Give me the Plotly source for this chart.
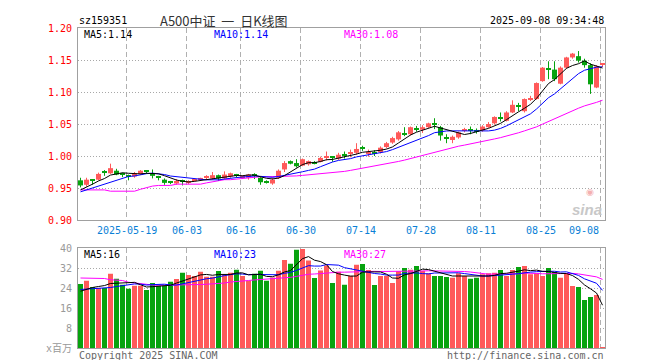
import plotly.graph_objects as go
import pandas as pd

# ---------------- data ----------------
dates = pd.bdate_range("2025-05-07", "2025-09-08")
dates = [d for d in dates if d.strftime("%m-%d") not in ("06-02",)]
dates = [d.strftime("%Y-%m-%d") for d in dates]

opens = [0.962, 0.955, 0.962, 0.963, 0.975, 0.973, 0.977, 0.972, 0.969, 0.968,
         0.972, 0.977, 0.973, 0.967, 0.963, 0.959, 0.957, 0.961, 0.959, 0.962,
         0.964, 0.966, 0.965, 0.970, 0.965, 0.968, 0.970, 0.966, 0.966, 0.970,
         0.966, 0.960, 0.957, 0.966, 0.979, 0.992, 0.989, 0.985, 0.987, 0.990,
         0.991, 0.997, 0.998, 0.996, 1.001, 1.004, 1.005, 1.012, 1.004, 1.005,
         1.006, 1.014, 1.021, 1.026, 1.035, 1.034, 1.043, 1.041, 1.045, 1.050,
         1.045, 1.029, 1.025, 1.029, 1.040, 1.041, 1.040, 1.040, 1.045, 1.051,
         1.060, 1.055, 1.068, 1.078, 1.070, 1.088, 1.089, 1.117, 1.136, 1.135,
         1.113, 1.138, 1.154, 1.156, 1.149, 1.142, 1.107, 1.1435]
highs = [0.966, 0.966, 0.964, 0.974, 0.978, 0.988, 0.980, 0.974, 0.971, 0.975,
         0.978, 0.978, 0.979, 0.969, 0.965, 0.961, 0.964, 0.963, 0.962, 0.964,
         0.966, 0.970, 0.975, 0.971, 0.976, 0.974, 0.972, 0.970, 0.972, 0.973,
         0.967, 0.962, 0.966, 0.979, 0.992, 0.993, 0.995, 0.996, 0.993, 0.992,
         0.999, 1.007, 1.000, 1.005, 1.007, 1.010, 1.020, 1.016, 1.010, 1.009,
         1.015, 1.022, 1.030, 1.039, 1.045, 1.046, 1.047, 1.048, 1.052, 1.059,
         1.047, 1.034, 1.032, 1.038, 1.044, 1.046, 1.043, 1.048, 1.053, 1.062,
         1.068, 1.070, 1.087, 1.083, 1.090, 1.094, 1.115, 1.139, 1.148, 1.148,
         1.140, 1.155, 1.161, 1.164, 1.152, 1.145, 1.142, 1.144]
lows = [0.951, 0.952, 0.955, 0.962, 0.969, 0.972, 0.970, 0.967, 0.962, 0.966,
        0.971, 0.972, 0.965, 0.962, 0.955, 0.956, 0.955, 0.954, 0.956, 0.960,
        0.962, 0.964, 0.963, 0.961, 0.963, 0.966, 0.966, 0.964, 0.963, 0.964,
        0.955, 0.957, 0.955, 0.964, 0.975, 0.987, 0.982, 0.984, 0.985, 0.987,
        0.990, 0.993, 0.991, 0.994, 0.996, 0.998, 1.002, 1.008, 0.999, 1.000,
        1.004, 1.012, 1.019, 1.024, 1.031, 1.032, 1.038, 1.036, 1.044, 1.042,
        1.024, 1.020, 1.020, 1.027, 1.037, 1.034, 1.035, 1.038, 1.044, 1.049,
        1.054, 1.054, 1.067, 1.070, 1.068, 1.086, 1.088, 1.116, 1.120, 1.117,
        1.112, 1.136, 1.152, 1.146, 1.138, 1.097, 1.106, 1.139]
closes = [0.954, 0.963, 0.961, 0.972, 0.974, 0.981, 0.971, 0.971, 0.968, 0.973,
          0.977, 0.976, 0.969, 0.966, 0.958, 0.958, 0.961, 0.960, 0.960, 0.963,
          0.965, 0.967, 0.970, 0.965, 0.971, 0.973, 0.969, 0.968, 0.971, 0.969,
          0.959, 0.959, 0.963, 0.977, 0.989, 0.988, 0.984, 0.995, 0.992, 0.989,
          0.997, 0.998, 0.997, 1.002, 1.000, 1.005, 1.011, 1.011, 1.006, 1.004,
          1.013, 1.020, 1.028, 1.037, 1.034, 1.045, 1.042, 1.045, 1.051, 1.049,
          1.032, 1.028, 1.030, 1.037, 1.041, 1.040, 1.039, 1.046, 1.050, 1.061,
          1.059, 1.068, 1.080, 1.077, 1.089, 1.090, 1.114, 1.138, 1.135, 1.120,
          1.138, 1.154, 1.160, 1.149, 1.142, 1.112, 1.140, 1.144]
volumes = [25.6, 26.9, 24.4, 24.0, 24.0, 29.7, 27.7, 25.3, 23.7, 24.9,
           24.9, 23.2, 26.0, 24.9, 24.9, 26.5, 27.6, 30.1, 29.2, 28.8,
           30.5, 28.5, 28.5, 30.8, 29.2, 30.1, 31.3, 28.8, 26.9, 29.7,
           30.9, 26.9, 28.2, 30.9, 35.2, 33.7, 39.3, 39.6, 35.0, 28.0,
           31.0, 33.0, 26.0, 30.5, 25.3, 28.9, 33.3, 33.6, 31.2, 25.2,
           28.8, 28.8, 26.0, 30.7, 32.0, 31.3, 32.8, 30.9, 29.9, 28.8,
           28.8, 28.4, 28.1, 29.9, 28.8, 27.7, 28.1, 29.5, 29.9, 30.1,
           31.2, 28.8, 31.2, 32.4, 32.8, 29.5, 29.9, 28.8, 32.0, 30.4,
           28.1, 29.6, 24.8, 24.4, 19.2, 20.4, 21.2, 0.4]

# moving-average values before a full window exists inside the shown range
ma5_head = [0.947, 0.951, 0.956, 0.961]
ma10_head = [0.944, 0.947, 0.950, 0.953, 0.956, 0.959, 0.962, 0.965, 0.968]
ma30_head = [0.947, 0.947, 0.947, 0.947, 0.947, 0.945, 0.945, 0.945, 0.945, 0.945,
             0.948, 0.951, 0.953, 0.954, 0.954, 0.954, 0.956, 0.956, 0.956, 0.956,
             0.956, 0.958, 0.960, 0.962, 0.963, 0.963, 0.964, 0.965, 0.966]
vma5_head = [22.7, 23.5, 24.2, 24.6]
vma10_head = [23.4, 23.5, 23.6, 23.7, 23.8, 24.2, 24.6, 25.0, 25.3]
vma30_head = [28.0, 28.0, 28.0, 27.9, 27.8, 27.3, 27.1, 27.0, 26.3, 26.0,
              25.8, 25.3, 25.2, 25.1, 25.1, 25.1, 25.1, 25.2, 25.3, 25.3,
              25.4, 25.5, 25.6, 25.8, 26.0, 26.4, 26.7, 26.9, 27.0]

date_ticks = ["2025-05-19", "2025-06-03", "2025-06-16", "2025-06-30", "2025-07-14",
              "2025-07-28", "2025-08-11", "2025-08-25", "2025-09-08"]
date_tick_text = ["2025-05-19", "06-03", "06-16", "06-30", "07-14",
                  "07-28", "08-11", "08-25", "09-08"]
price_ticks = [0.90, 0.95, 1.00, 1.05, 1.10, 1.15, 1.20]
vol_ticks = [0, 8, 16, 24, 32, 40]
vol_tick_text = ["x百万", "8", "16", "24", "32", "40"]

title_code = "sz159351"
title_name = "A500中证\u00a0\u00a0一\u00a0\u00a0日K线图"
timestamp = "2025-09-08 09:34:48"
price_ma_labels = ["MA5:1.14", "MA10:1.14", "MA30:1.08"]
vol_ma_labels = ["MA5:16", "MA10:23", "MA30:27"]

# ---------------- helpers ----------------
n = len(closes)
idx = list(range(n))


def rolling(values, w, head):
    s = pd.Series(values).rolling(w).mean().tolist()
    return head + s[len(head):]


ma5 = rolling(closes, 5, ma5_head)
ma10 = rolling(closes, 10, ma10_head)
ma30 = rolling(closes, 30, ma30_head)
vma5 = rolling(volumes, 5, vma5_head)
vma10 = rolling(volumes, 10, vma10_head)
vma30 = rolling(volumes, 30, vma30_head)

RED = "#ff5a5a"
GREEN = "#07a30f"
up = [c >= o for o, c in zip(opens, closes)]
colors = [RED if u else GREEN for u in up]

MONO = "DejaVu Sans Mono"
L, R, T, B = 70, 597, 20, 340


def px(x):
    return (x - L) / (R - L)


def py(y):
    return (B - y) / (B - T)


fig = go.Figure()

# candle bodies
base = [min(o, c) for o, c in zip(opens, closes)]
height = [max(abs(c - o), 0.0017) for o, c in zip(opens, closes)]
fig.add_trace(go.Bar(x=idx, y=height, base=base, width=5 / 6,
                     marker=dict(color=colors, line=dict(width=0)),
                     xaxis="x", yaxis="y", hoverinfo="skip"))

# wicks
for col in (RED, GREEN):
    wx, wy = [], []
    for i in idx:
        if colors[i] == col:
            wx += [i, i, None]
            wy += [lows[i], highs[i], None]
    fig.add_trace(go.Scatter(x=wx, y=wy, mode="lines",
                             line=dict(color=col, width=1),
                             xaxis="x", yaxis="y", hoverinfo="skip"))

# price MAs
for vals, col in ((ma30, "#ff00ff"), (ma10, "#0000ff"), (ma5, "#000000")):
    fig.add_trace(go.Scatter(x=idx, y=vals, mode="lines",
                             line=dict(color=col, width=1),
                             xaxis="x", yaxis="y", hoverinfo="skip"))

# volume bars
fig.add_trace(go.Bar(x=idx, y=volumes, width=5 / 6,
                     marker=dict(color=colors, line=dict(width=0)),
                     xaxis="x2", yaxis="y2", hoverinfo="skip"))
for vals, col in ((vma30, "#ff00ff"), (vma10, "#0000ff"), (vma5, "#000000")):
    fig.add_trace(go.Scatter(x=idx, y=vals, mode="lines",
                             line=dict(color=col, width=1),
                             xaxis="x2", yaxis="y2", hoverinfo="skip"))

grid_pos = [dates.index(d) - 1 / 3 for d in date_ticks]

xcommon = dict(range=[-2.5 / 6, n - 1 + 2.5 / 6], tickvals=grid_pos,
               showticklabels=False, ticks="", showgrid=True,
               gridcolor="#b0b0b0", griddash="5px,3px", gridwidth=1,
               showline=True, mirror=True, linecolor="#a0a0a0", linewidth=1,
               zeroline=False, fixedrange=True)
fig.update_layout(
    width=660, height=360,
    margin=dict(l=L, r=660 - R, t=T, b=360 - B, pad=0),
    paper_bgcolor="white", plot_bgcolor="white",
    showlegend=False, barmode="overlay",
    xaxis=dict(domain=[0, 1], anchor="y", **xcommon),
    xaxis2=dict(domain=[0, 1], anchor="y2", matches="x", **xcommon),
    yaxis=dict(domain=[py(212), 1], range=[0.90, 1.20], tickvals=price_ticks,
               ticktext=[f"{v:.2f}" for v in price_ticks], ticks="",
               tickfont=dict(family=MONO, size=10, color="#ff0000"),
               showgrid=True, gridcolor="#a8a8a8", griddash="1px,2px",
               showline=True, mirror=True, linecolor="#a0a0a0",
               zeroline=False, fixedrange=True, ticklabelstandoff=3),
    yaxis2=dict(domain=[0, py(240)], range=[0, 40], tickvals=vol_ticks,
                ticktext=vol_tick_text, ticks="",
                tickfont=dict(family=MONO + ", Noto Sans CJK SC", size=10, color="#999999"),
                showgrid=True, gridcolor="#a8a8a8", griddash="1px,2px",
                showline=True, mirror=True, linecolor="#a0a0a0",
                zeroline=False, fixedrange=True, ticklabelstandoff=3),
)

ann = []


def text(x, y, s, color="#000", size=10, anchor="left", family=MONO, xref="paper"):
    ann.append(dict(x=x, y=y, xref=xref, yref="paper", text=s, showarrow=False,
                    xanchor=anchor, yanchor="middle",
                    font=dict(family=family, size=size, color=color)))


text(px(69), py(12), title_code)
text(px(150), py(12), title_name, color="#333333", size=13,
     family="Noto Sans CJK SC")
text(px(598), py(12), timestamp, anchor="right")

for lab, x0, col in zip(price_ma_labels, (74, 204, 334), ("#000000", "#0000ff", "#ff00ff")):
    text(px(x0), py(26), lab, color=col)
for lab, x0, col in zip(vol_ma_labels, (74, 204, 334), ("#000000", "#0000ff", "#ff00ff")):
    text(px(x0), py(246), lab, color=col)

for k, (g, lab) in enumerate(zip(grid_pos, date_tick_text)):
    last = k == len(grid_pos) - 1
    ann.append(dict(x=g, y=py(222), xref="x", yref="paper", text=lab,
                    showarrow=False, xanchor="right" if last else "center",
                    yanchor="middle",
                    font=dict(family=MONO, size=10, color="#0a7fd6")))

text(px(69), py(347), "Copyright 2025 SINA.COM", color="#666666")
text(px(598), py(347), "http://finance.sina.com.cn", color="#666666", anchor="right")

# sina watermark
text(px(596), py(201), "<b><i>sina</i></b>", color="#c8c8c8", size=15,
     anchor="right", family="Liberation Sans")
text(px(588), py(184), "◉", color="#f4b0b0", size=9, anchor="right",
     family="DejaVu Sans")

fig.update_layout(annotations=ann)
fig.write_html("out.html", config={"displayModeBar": False})
